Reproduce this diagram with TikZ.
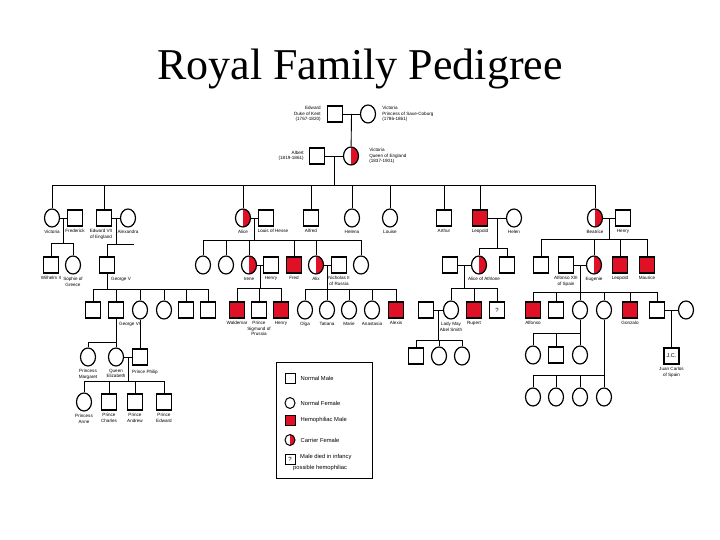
\documentclass[tikz,border=0pt]{standalone}
\usepackage{fontspec}
\setmainfont{Liberation Serif}
\newfontfamily\lblfont{Liberation Sans}
\usetikzlibrary{positioning,shapes.geometric,calc}
\definecolor{hemored}{RGB}{224,16,38}

\begin{document}
\begin{tikzpicture}[x=1pt, y=-1pt,
  male/.style={rectangle, draw, line width=1.2pt, minimum width=15pt,
               minimum height=16pt, inner sep=0pt, fill=white},
  female/.style={ellipse, draw, line width=1.2pt, minimum width=15pt,
                 minimum height=18pt, inner sep=0pt, fill=white},
  hemo/.style={male, fill=hemored},
  carrier/.style={female, path picture={\fill[hemored]
      (path picture bounding box.south) rectangle (path picture bounding box.north east);}},
  keysize/.style={minimum width=10pt, minimum height=10pt, line width=1pt},
  lbl/.style={font=\lblfont\fontsize{4.6}{5.4}\selectfont, align=center, inner sep=0pt},
  keytext/.style={font=\lblfont\fontsize{5.8}{7}\selectfont, inner sep=0pt, anchor=west},
  link/.style={line width=0.9pt},
  node distance=2.5pt
]
  \useasboundingbox (0,0) rectangle (720,540);
  \node[font=\fontsize{44}{50}\selectfont, anchor=base] (title) at (360,80) {Royal Family Pedigree};

  \node[male] (edw) at (335,114) {};
  \node[female] (vps) at (368,114) {};
  \node[male] (alb) at (317,156) {};
  \node[carrier] (vic) at (351,156) {};

  \node[female] (vicP) at (52,218) {};
  \node[male] (fred) at (75,218) {};
  \node[male] (edw7) at (104,218) {};
  \node[female] (alexa) at (128,218) {};
  \node[carrier] (alice) at (243,218) {};
  \node[male] (louis) at (266,218) {};
  \node[male] (alfred) at (311,218) {};
  \node[female] (helena) at (352,218) {};
  \node[female] (louise) at (390,218) {};
  \node[male] (arthur) at (444,218) {};
  \node[hemo] (leo) at (480,218) {};
  \node[female] (helen) at (514,218) {};
  \node[carrier] (beat) at (595,218) {};
  \node[male] (henryB) at (623,218) {};

  \node[male] (wil2) at (51,265) {};
  \node[female] (sophie) at (73,265) {};
  \node[male] (geo5) at (107,265) {};
  \node[female] (aliceA) at (203,265) {};
  \node[female] (aliceB) at (226,265) {};
  \node[carrier] (irene) at (249,265) {};
  \node[male] (henryP) at (271,265) {};
  \node[hemo] (fredH) at (294,265) {};
  \node[carrier] (alix) at (316,265) {};
  \node[male] (nich) at (339,265) {};
  \node[female] (aliceC) at (361,265) {};
  \node[male] (athS) at (450,265) {};
  \node[carrier] (athl) at (479,265) {};
  \node[male] (leoS) at (507,265) {};
  \node[male] (beatA) at (541,265) {};
  \node[male] (alf13) at (566,265) {};
  \node[carrier] (eug) at (594,265) {};
  \node[hemo] (leoB) at (620,265) {};
  \node[hemo] (maur) at (647,265) {};

  \node[male] (g1) at (93,310) {};
  \node[male] (geo6) at (116,310) {};
  \node[female] (g3) at (140,310) {};
  \node[female] (g4) at (164,310) {};
  \node[male] (g5) at (186,310) {};
  \node[male] (g6) at (208,310) {};
  \node[hemo] (wald) at (237,310) {};
  \node[male] (sig) at (259,310) {};
  \node[hemo] (henH) at (281,310) {};
  \node[female] (olga) at (305,310) {};
  \node[female] (tat) at (327,310) {};
  \node[female] (marie) at (349,310) {};
  \node[female] (anast) at (372,310) {};
  \node[hemo] (alexis) at (396,310) {};
  \node[male] (lmaySp) at (426,310) {};
  \node[female] (lmay) at (451,310) {};
  \node[hemo] (rupert) at (474,310) {};
  \node[male, font=\lblfont\fontsize{6}{6}\selectfont] (inf) at (497,310) {?};
  \node[hemo] (alfo) at (533,310) {};
  \node[male] (e2) at (556,310) {};
  \node[female] (e3) at (580,310) {};
  \node[female] (e4) at (604,310) {};
  \node[hemo] (gonz) at (630,310) {};
  \node[male] (juan) at (657,310) {};
  \node[female] (juanW) at (686,310) {};

  \node[female] (marg) at (88,357) {};
  \node[female] (eliz) at (116,357) {};
  \node[male] (philip) at (140,357) {};
  \node[female] (anne) at (84,402) {};
  \node[male] (charles) at (109,402) {};
  \node[male] (andrew) at (135,402) {};
  \node[male] (edwP) at (164,402) {};

  \node[male] (lk1) at (416,356) {};
  \node[female] (lk2) at (439,356) {};
  \node[female] (lk3) at (462,356) {};
  \node[female] (ek1) at (533,355) {};
  \node[male] (ek2) at (556,355) {};
  \node[female] (ek3) at (580,355) {};
  \node[female] (fk1) at (533,397) {};
  \node[female] (fk2) at (556,397) {};
  \node[female] (fk3) at (580,397) {};
  \node[female] (fk4) at (604,397) {};
  \node[male, font=\lblfont\fontsize{5.5}{6}\selectfont] (jc) at (671.5,356) {J.C.};

  \node[lbl, align=right, left=6pt of edw] (edw-l) {Edward\\Duke of Kent\\(1767-1820)};
  \node[lbl, align=left, right=6pt of vps] (vps-l) {Victoria\\Princess of Saxe-Coburg\\(1786-1861)};
  \node[lbl, align=right, left=5pt of alb] (alb-l) {Albert\\(1819-1861)};
  \node[lbl, align=left, right=10pt of vic] (vic-l) {Victoria\\Queen of England\\(1837-1901)};
  \node[lbl, anchor=west] (geo5-l) at (111,279) {George V};
  \node[lbl, anchor=west] (geo6-l) at (119,324) {George VI};
  \node[lbl, anchor=west] (philip-l) at (132,372) {Prince Philip};
  \node[lbl, below=of louis, xshift=7pt] (louis-l) {Louis of Hesse};
  \node[lbl, below=of athl, xshift=5pt] (athl-l) {Alice of Athlone};
  \node[lbl, below=of edw7, xshift=-3pt] (edw7-l) {Edward VII\\of England};

  \foreach \n/\t in {vicP/Victoria, fred/Frederick,
      alexa/Alexandra, alice/Alice, alfred/Alfred, helena/Helena,
      louise/Louise, arthur/Arthur, leo/Leopold, helen/Helen, beat/Beatrice, henryB/Henry,
      wil2/Wilhelm II, sophie/{Sophie of\\Greece}, irene/Irene, henryP/Henry, fredH/Fred,
      alix/Alix, nich/{Nicholas II\\of Russia},
      alf13/{Alfonso XIII\\of Spain}, eug/Eugenie, leoB/Leopold, maur/Maurice,
      wald/Waldemar, sig/{Prince\\Sigmund of\\Prussia}, henH/Henry, olga/Olga, tat/Tatiana,
      marie/Marie, anast/Anastasia, alexis/Alexis, lmay/{Lady May\\Abel Smith},
      rupert/Rupert, alfo/Alfonso, gonz/Gonzalo, marg/{Princess\\Margaret},
      eliz/{Queen\\Elizabeth}, anne/{Princess\\Anne}, charles/{Prince\\Charles},
      andrew/{Prince\\Andrew}, edwP/{Prince\\Edward}, jc/{Juan Carlos\\of Spain}}
    \node[lbl, below=of \n] (\n-l) {\t};

  \draw[link] (edw) -- (vps);
  \coordinate (j-edw) at ($(edw)!0.5!(vps)$);
  \draw[link] (j-edw) -- (vic);
  \draw[link] (alb) -- (vic);
  \coordinate (j-alb) at ($(alb)!0.5!(vic)$);
  \coordinate (s-alb) at (j-alb |- 0,185);
  \draw[link] (j-alb) -- (s-alb);
  \foreach \c in {vicP,edw7,alice,alfred,helena,louise,arthur,leo,beat}
    \draw[link] (\c.north) |- (s-alb);

  \foreach \a/\b/\sy/\kids in {vicP/fred/243/{wil2,sophie}, edw7/alexa/244/{geo5},
      alice/louis/240/{aliceA,aliceB,irene,fredH,alix,aliceC}, leo/helen/248/{athl,leoS},
      beat/henryB/239/{beatA,eug,leoB,maur}, irene/henryP/288/{wald,sig,henH},
      alix/nich/289/{olga,tat,marie,anast,alexis}, athS/athl/288/{lmay,rupert,inf},
      alf13/eug/292/{alfo,e2,e3,e4,gonz,juan}, eliz/philip/381/{anne,charles,andrew,edwP},
      lmaySp/lmay/340/{lk1,lk2,lk3}} {
    \draw[link] (\a) -- (\b);
    \coordinate (j-\a) at ($(\a)!0.5!(\b)$);
    \coordinate (s-\a) at (j-\a |- 0,\sy);
    \draw[link] (j-\a) -- (s-\a);
    \foreach \k in \kids
      \draw[link] (\k.north) |- (s-\a);
  }
  \coordinate (edw7stub) at (134,244);
  \draw[link] (s-edw7) -- (edw7stub);

  \foreach \p/\sy/\kids in {geo5/289/{g1,geo6,g3,g4,g5,g6}, geo6/342/{marg,eliz},
      e3/333/{ek1,ek2,ek3}, e4/375/{fk1,fk2,fk3,fk4}} {
    \coordinate (s-\p) at (\p |- 0,\sy);
    \draw[link] (\p) -- (s-\p);
    \foreach \k in \kids
      \draw[link] (\k.north) |- (s-\p);
  }
  \draw[link] (g3) -- (philip);
  \draw[link] (juan) -- (juanW);
  \coordinate (j-juan) at ($(juan)!0.5!(juanW)$);
  \draw[link] (j-juan) -- (jc);

  \node[draw, line width=1pt, minimum width=96pt, minimum height=116pt, inner sep=0pt] (legend) at (324,420) {};
  \node[male, keysize] (k1) at (290,378) {};
  \node[female, keysize, minimum height=11pt] (k2) at (290,403) {};
  \node[hemo, keysize] (k3) at (290,420) {};
  \node[carrier, keysize, minimum height=11pt] (k4) at (290,440) {};
  \node[male, keysize, font=\lblfont\fontsize{6}{6}\selectfont] (k5) at (290,459) {?};
  \node[keytext, right=5pt of k1] (k1-t) {Normal Male};
  \node[keytext, right=5pt of k2] (k2-t) {Normal Female};
  \node[keytext, right=5pt of k3] (k3-t) {Hemophiliac Male};
  \node[keytext, right=5pt of k4] (k4-t) {Carrier Female};
  \node[keytext] (k5-t) at (300,457) {Male died in infancy};
  \node[keytext] (k5-u) at (293,468) {possible hemophiliac};
\end{tikzpicture}
\end{document}
